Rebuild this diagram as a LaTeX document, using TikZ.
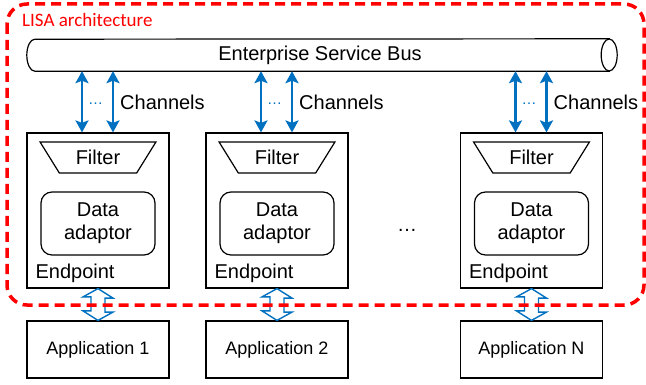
\documentclass[tikz,border=0pt]{standalone}
\usepackage{fontspec}
\setmainfont{Liberation Sans}
\newfontfamily\calib{Carlito}
\usetikzlibrary{arrows.meta,shapes.geometric}
\definecolor{bl}{HTML}{0070C0}
\definecolor{rd}{HTML}{FF0000}
\begin{document}
\begin{tikzpicture}[x=1pt,y=-1pt,
  every node/.style={font=\fontsize{20}{23.2}\selectfont},
  epbox/.style={draw,line width=1.2pt,minimum width=142pt,minimum height=155pt,inner sep=0},
  appbox/.style={draw,line width=1.2pt,minimum width=142pt,minimum height=57pt,inner sep=0,font=\fontsize{18}{21}\selectfont},
  filt/.style={trapezium,draw,line width=1.2pt,shape border rotate=180,trapezium stretches=true,
     minimum width=116pt,minimum height=31pt,trapezium angle=53,inner sep=0},
  dabox/.style={draw,line width=1.2pt,rounded corners=11pt,minimum width=114pt,minimum height=63pt,align=center,inner sep=0},
  chan/.style={bl,line width=2.8pt,{Stealth[length=12pt,width=13pt,inset=2.5pt]}-{Stealth[length=12pt,width=13pt,inset=2.5pt]}},
  hollow/.style={bl,line width=1.4pt,line join=miter},
  lab/.style={anchor=base west,inner sep=0},
  dots/.style={anchor=base,inner sep=0,text=bl,font=\fontsize{15}{18}\selectfont},
  redbox/.style={rd,line width=3.5pt,dash pattern=on 10pt off 6pt,rounded corners=20pt}
]
\useasboundingbox (0,0) rectangle (646,385);

% Enterprise service bus (cylinder)
\node[minimum width=574pt,minimum height=32pt,inner sep=0] (bus) at (322,55) {};
\draw[line width=1.2pt,fill=white] (bus.south west) arc[start angle=90,end angle=270,x radius=8,y radius=16]
   -- (bus.north east) -- (bus.south east) -- cycle;
\draw[line width=1.2pt,fill=white] (bus.east) ellipse[x radius=8,y radius=16];
\node (bustext) at (320,55) {Enterprise Service Bus};

% Endpoints
\foreach \i/\cx in {1/98,2/277,3/531.5}{
  \node[epbox] (ep\i) at (\cx,210.5) {};
  \node[filt] (f\i) at (\cx,157.5) {Filter};
  \node[dabox] (da\i) at (\cx,223.5) {Data\\adaptor};
  \node[lab] (el\i) at ([xshift=9pt]ep\i.south west |- 0,278) {Endpoint};
  \draw[chan] ([xshift=-16pt]ep\i.north |- bus.south) -- ([xshift=-16pt]ep\i.north);
  \draw[chan] ([xshift=15pt]ep\i.north |- bus.south) -- ([xshift=15pt]ep\i.north);
  \node[dots] (cd\i) at ([xshift=-2.3pt]ep\i.north |- 0,104.5) {…};
  \node[lab] (ch\i) at ([xshift=22pt]ep\i.north |- 0,110) {Channels};
}

% Applications
\node[appbox] (app1) at (98,349.5) {Application 1};
\node[appbox] (app2) at (277,349.5) {Application 2};
\node[appbox] (app3) at (531.5,349.5) {Application N};

\node[anchor=base] (ell) at (407,232) {…};

% hollow double arrows
\foreach \i in {1,2,3}{
  \draw[hollow] (ep\i.south) -- ++(15,9.5) -- ++(-8,0) -- ++(0,14) -- ++(8,0) -- (app\i.north)
     -- ++(-15,-9.5) -- ++(8,0) -- ++(0,-14) -- ++(-8,0) -- cycle;
}

% LISA boundary
\draw[redbox] (7,4) rectangle (644,305);
\node[anchor=base west,inner sep=0,text=rd,font=\calib\fontsize{19}{22}\selectfont] (lisa) at (22,26.7) {LISA architecture};
\end{tikzpicture}
\end{document}
